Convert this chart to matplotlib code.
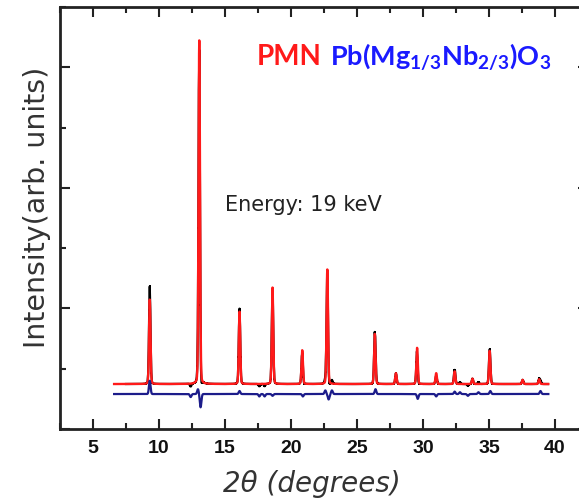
import numpy as np
import matplotlib
matplotlib.use("Agg")
import matplotlib.pyplot as plt
from matplotlib.ticker import MultipleLocator

# Bragg peaks: position (deg), height above background (arb.)
peak_pos = [9.30, 13.05, 16.10, 18.60, 20.85, 22.75, 26.35, 27.95, 29.55,
            31.00, 32.40, 33.75, 35.05, 37.55, 38.80]
peak_height = [700, 2850, 600, 800, 280, 950, 415, 90, 300,
               90, 105, 45, 275, 35, 40]

# features of the difference (obs - calc) curve
diff_pos = [9.30, 12.40, 12.95, 13.15, 16.10, 17.60, 18.00, 18.60, 20.90,
            22.60, 22.85, 23.10, 26.40, 29.60, 31.00, 32.40, 32.80, 33.40,
            34.20, 35.10, 38.90]
diff_amp = [110, -25, 40, -110, 25, -20, -20, -15, -20,
            30, -45, 30, 40, -40, -20, 20, 15, -15,
            15, 25, 25]

background = 373
diff_offset = 290
x_start, x_end = 6.6, 39.5

x_ticks = [5, 10, 15, 20, 25, 30, 35, 40]


def calc_profile(x):
    # pseudo-Voigt, mostly gaussian
    y = np.full_like(x, background, dtype=float)
    sig, hw, eta = 0.055, 0.06, 0.15
    for p, h in zip(peak_pos, peak_height):
        g = np.exp(-0.5 * ((x - p) / sig)**2)
        l = hw**2 / ((x - p)**2 + hw**2)
        y += h * ((1 - eta) * g + eta * l)
    return y


def diff_profile(x):
    d = np.zeros_like(x, dtype=float)
    for p, a in zip(diff_pos, diff_amp):
        d += a * np.exp(-0.5 * ((x - p) / 0.06)**2)
    return d


fig = plt.figure(figsize=(5.79, 5.03), dpi=100)
W, H = 579, 503
ax = fig.add_axes([60 / W, (H - 429) / H, 528 / W, 422 / H])

xf = np.arange(x_start, x_end, 0.005)
xo = np.arange(7.5, x_end, 0.04)

ax.plot(xo, calc_profile(xo) + diff_profile(xo), color="black", lw=1.6,
        marker="s", ms=1.5, mew=0, zorder=2)
ax.plot(xf, calc_profile(xf), color="#ff1a1a", lw=1.7, zorder=3)
ax.plot(xf, diff_profile(xf) + diff_offset, color="#1c1c8a", lw=1.6, zorder=3)

ax.set_xlim(2.5, 42.5)
ax.set_ylim(0, 3500)
ax.set_xticks(x_ticks)
ax.xaxis.set_minor_locator(MultipleLocator(2.5))
ax.yaxis.set_major_locator(MultipleLocator(1000))
ax.yaxis.set_minor_locator(MultipleLocator(500))
ax.set_yticklabels([])
ax.tick_params(which="both", direction="in", top=True, right=True,
               width=1.5, color="#222222")
ax.tick_params(which="major", length=7)
ax.tick_params(which="minor", length=4)
ax.tick_params(axis="x", labelsize=14, pad=8, labelcolor="#111111")
for lab in ax.get_xticklabels():
    lab.set_fontweight("bold")
    lab.set_family("Liberation Sans")
for s in ax.spines.values():
    s.set_linewidth(2)
    s.set_color("#222222")

fig.text(37 / W, 1 - 207 / H, "Intensity(arb. units)", rotation=90,
         ha="center", va="center", fontsize=20.5, color="#333333")
fig.text(312 / W, 1 - 484 / H, "2\u03b8 (degrees)", ha="center", va="center",
         fontsize=20, style="italic", color="#333333")

plt.rcParams["mathtext.fontset"] = "custom"
plt.rcParams["mathtext.bf"] = "Lato:bold"
fig.text(257 / W, 1 - 57 / H, "PMN", ha="left", va="center", fontsize=20,
         color="#ff1a1a", family="Lato", weight="bold")
fig.text(330 / W, 1 - 57 / H, r"$\mathbf{Pb(Mg_{1/3}Nb_{2/3})O_3}$",
         ha="left", va="center", fontsize=19.5, color="#1a1aff")
fig.text(225 / W, 1 - 205 / H, "Energy: 19 keV", ha="left", va="center",
         fontsize=15, color="#222222", family="DejaVu Sans")

fig.savefig("out.png", dpi=100)
